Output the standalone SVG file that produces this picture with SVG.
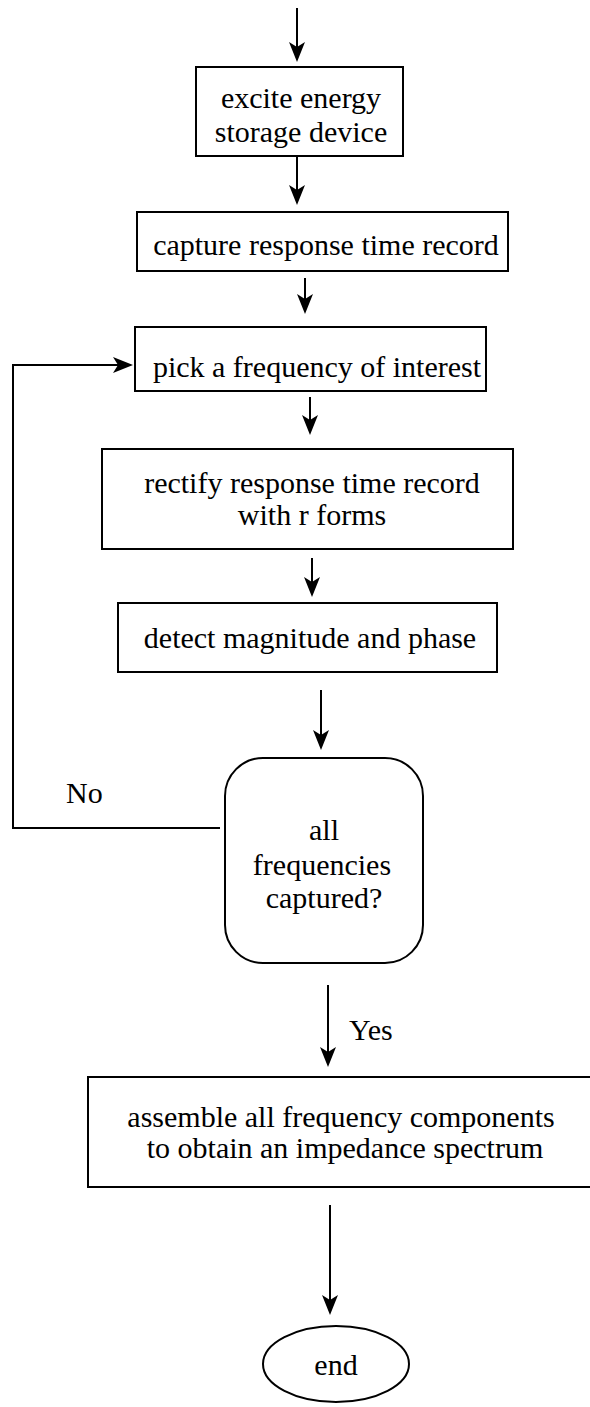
<svg xmlns="http://www.w3.org/2000/svg" width="590" height="1407" viewBox="0 0 590 1407">
<style>
  .box { fill: #ffffff; stroke: #000000; stroke-width: 2; }
  .lbl { font-family: "Liberation Serif", "Times New Roman", serif; font-size: 30px; fill: #000000; text-anchor: middle; }
  .lbl-l { font-family: "Liberation Serif", "Times New Roman", serif; font-size: 30px; fill: #000000; }
  .edge { fill: none; stroke: #000000; stroke-width: 2; }
</style>
<defs>
  <marker id="arr" markerUnits="userSpaceOnUse" viewBox="-15 -9 22 18" markerWidth="22" markerHeight="18" refX="0" refY="0" orient="auto">
    <path d="M6,0 L-14,-8 L-9,0 L-14,8 Z" fill="#000000"/>
  </marker>
</defs>
<rect width="590" height="1407" fill="#ffffff"/>

<g id="connectors">
  <line class="edge" x1="297" y1="8" x2="297" y2="56" marker-end="url(#arr)"/>
  <line class="edge" x1="297" y1="157" x2="297" y2="199" marker-end="url(#arr)"/>
  <line class="edge" x1="305" y1="278" x2="305" y2="308" marker-end="url(#arr)"/>
  <line class="edge" x1="310" y1="397" x2="310" y2="429" marker-end="url(#arr)"/>
  <line class="edge" x1="312" y1="558" x2="312" y2="591" marker-end="url(#arr)"/>
  <line class="edge" x1="321" y1="690" x2="321" y2="744" marker-end="url(#arr)"/>
  <line class="edge" x1="328" y1="985" x2="328" y2="1061" marker-end="url(#arr)"/>
  <line class="edge" x1="330" y1="1205" x2="330" y2="1309" marker-end="url(#arr)"/>
  <polyline class="edge" points="220,828 13,828 13,365 127,365" marker-end="url(#arr)"/>
  <text class="lbl-l" x="66" y="803">No</text>
  <text class="lbl-l" x="349" y="1040">Yes</text>
</g>

<g id="n1">
  <rect class="box" x="196" y="67" width="207" height="89"/>
  <text class="lbl" x="301" y="108">excite energy</text>
  <text class="lbl" x="301" y="142">storage device</text>
</g>
<g id="n2">
  <rect class="box" x="137" y="212" width="371" height="59"/>
  <text class="lbl" x="326" y="255">capture response time record</text>
</g>
<g id="n3">
  <rect class="box" x="135" y="327" width="351" height="64"/>
  <text class="lbl" x="317" y="377">pick a frequency of interest</text>
</g>
<g id="n4">
  <rect class="box" x="102" y="449" width="411" height="100"/>
  <text class="lbl" x="312" y="493">rectify response time record</text>
  <text class="lbl" x="312" y="525">with r forms</text>
</g>
<g id="n5">
  <rect class="box" x="118" y="603" width="379" height="69"/>
  <text class="lbl" x="310" y="648">detect magnitude and phase</text>
</g>
<g id="n6">
  <rect class="box" x="225" y="758" width="198" height="205" rx="38" ry="38"/>
  <text class="lbl" x="324" y="840">all</text>
  <text class="lbl" x="322" y="875">frequencies</text>
  <text class="lbl" x="324" y="908">captured?</text>
</g>
<g id="n7">
  <rect class="box" x="88" y="1077" width="506" height="110"/>
  <text class="lbl" x="341" y="1127">assemble all frequency components</text>
  <text class="lbl" x="345" y="1158">to obtain an impedance spectrum</text>
</g>
<g id="n8">
  <ellipse class="box" cx="336" cy="1364" rx="73" ry="38"/>
  <text class="lbl" x="336" y="1375">end</text>
</g>
</svg>
